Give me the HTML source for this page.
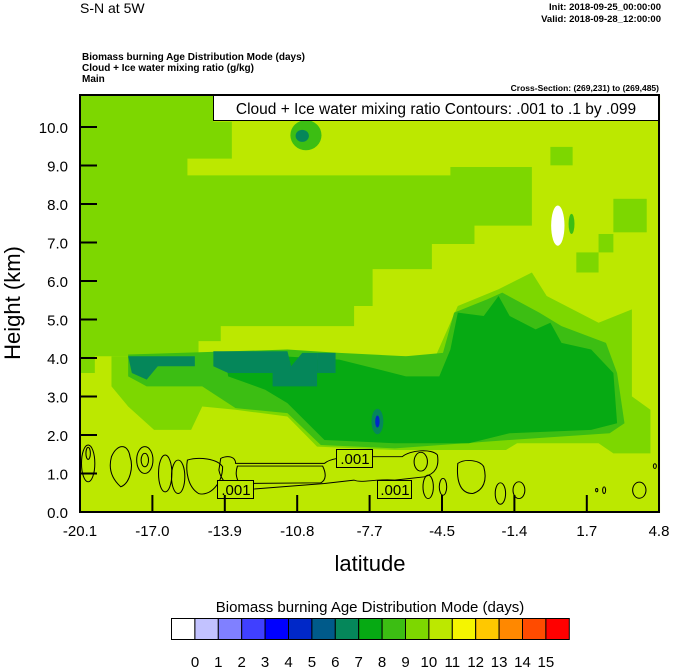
<!DOCTYPE html>
<html><head><meta charset="utf-8"><style>
html,body{margin:0;padding:0;background:#fff;}
svg{display:block;font-family:"Liberation Sans",sans-serif;}
</style></head><body>
<svg width="674" height="668" viewBox="0 0 674 668" xmlns="http://www.w3.org/2000/svg">
<rect width="674" height="668" fill="#fff"/>
<text x="80" y="13" font-size="14">S-N at 5W</text>
<text x="661" y="10" font-size="9.5" font-weight="bold" text-anchor="end">Init: 2018-09-25_00:00:00</text>
<text x="661" y="22" font-size="9.5" font-weight="bold" text-anchor="end">Valid: 2018-09-28_12:00:00</text>
<text x="82" y="60" font-size="10" font-weight="bold">Biomass burning Age Distribution Mode   (days)</text>
<text x="82" y="71" font-size="10" font-weight="bold">Cloud + Ice water mixing ratio   (g/kg)</text>
<text x="82" y="82" font-size="10" font-weight="bold">Main</text>
<text x="659" y="91" font-size="8.5" font-weight="bold" text-anchor="end">Cross-Section: (269,231) to (269,485)</text>

<g transform="translate(80,95) scale(0.3704,0.3349)">
<rect x="0" y="0" width="1566" height="1248" fill="#bce800"/>
<polygon fill="#7dd700" points="0,0 360,0 360,80 410,80 410,190 290,190 290,240 1000,240 1000,215 1220,215 1220,390 1065,390 1065,445 950,445 950,520 790,520 790,630 740,630 740,690 380,690 380,735 320,735 320,780 40,780 40,830 0,830"/>
<rect fill="#7dd700" x="1270" y="155" width="60" height="55"/>
<rect fill="#7dd700" x="1440" y="310" width="90" height="100"/>
<rect fill="#7dd700" x="1400" y="415" width="40" height="55"/>
<rect fill="#7dd700" x="1340" y="470" width="60" height="60"/>
<polygon fill="#7dd700" points="85,780 960,780 1000,680 1020,630 1130,580 1220,530 1260,600 1400,680 1490,640 1490,900 1540,940 1540,1070 1440,1070 1400,1040 1180,1040 1150,1060 850,1060 640,1050 560,960 420,940 330,930 300,1000 200,1000 130,930 85,870"/>
<polygon fill="#3cbe13" points="130,775 560,760 700,770 880,780 980,770 1010,650 1100,610 1140,590 1240,650 1300,690 1420,740 1450,830 1470,980 1430,1010 1160,1030 850,1055 650,1045 560,950 420,935 330,870 180,870 130,840"/>
<polygon fill="#06aa13" points="390,770 700,790 880,840 970,840 1000,760 1020,650 1090,660 1130,600 1160,660 1230,700 1270,680 1300,740 1380,760 1440,830 1450,980 1380,1000 1160,1010 1050,1040 850,1040 660,1030 560,920 500,880 400,840"/>
<polygon fill="#05875a" points="130,780 310,780 310,810 210,810 180,850 140,830"/>
<polygon fill="#05875a" points="360,765 560,765 570,810 600,770 640,770 640,870 520,870 520,830 400,830 360,810"/>
<rect fill="#05875a" x="640" y="770" width="50" height="60"/>
<ellipse cx="803" cy="975" rx="16" ry="38" fill="#05875a"/>
<ellipse cx="803" cy="975" rx="6" ry="18" fill="#0028c8"/>
<ellipse cx="610" cy="120" rx="42" ry="45" fill="#3cbe13"/>
<ellipse cx="600" cy="122" rx="18" ry="18" fill="#05875a"/>
<ellipse cx="1327" cy="385" rx="8" ry="30" fill="#3cbe13"/>
<ellipse cx="1290" cy="390" rx="18" ry="60" fill="#fff"/>
<g fill="none" stroke="#000" stroke-width="2.8">
<path d="M380,1085 C400,1075 420,1080 420,1100 L660,1100 C680,1080 740,1080 760,1080 L870,1080 C890,1060 950,1055 965,1075 C970,1110 960,1130 930,1140 L850,1150 C800,1145 760,1160 740,1150 L660,1160 L430,1180 C400,1170 380,1150 375,1120 Z"/>
<path d="M425,1108 L655,1108 C665,1130 665,1150 650,1158 L430,1160 C420,1140 420,1125 425,1108 Z"/>
<ellipse cx="22" cy="1100" rx="18" ry="55"/>
<ellipse cx="22" cy="1070" rx="6" ry="18"/>
<path d="M85,1080 C100,1040 130,1040 135,1080 C145,1110 135,1160 110,1170 C90,1150 75,1120 85,1080 Z"/>
<ellipse cx="175" cy="1090" rx="22" ry="40"/>
<ellipse cx="175" cy="1090" rx="10" ry="20"/>
<ellipse cx="230" cy="1130" rx="18" ry="55"/>
<ellipse cx="265" cy="1140" rx="18" ry="50"/>
<path d="M290,1090 C320,1080 370,1085 385,1110 C385,1160 350,1200 320,1190 C290,1170 285,1120 290,1090 Z"/>
<ellipse cx="920" cy="1095" rx="18" ry="28"/>
<ellipse cx="940" cy="1170" rx="14" ry="35"/>
<path d="M1020,1100 C1040,1085 1080,1090 1090,1110 C1100,1150 1090,1180 1060,1190 C1030,1190 1015,1160 1020,1100 Z"/>
<ellipse cx="1135" cy="1190" rx="14" ry="32"/>
<ellipse cx="1185" cy="1180" rx="16" ry="25"/>
<ellipse cx="1510" cy="1180" rx="18" ry="24"/>
<ellipse cx="1415" cy="1180" rx="4" ry="10"/>
<ellipse cx="1395" cy="1180" rx="3" ry="5"/>
<ellipse cx="1552" cy="1108" rx="4" ry="7"/>
<ellipse cx="980" cy="1170" rx="10" ry="25"/>
</g>
</g>
<g stroke="#000" stroke-width="1" fill="#bce800">
<rect x="336.5" y="449.5" width="36" height="18"/>
<rect x="217.5" y="480.5" width="36" height="18"/>
<rect x="377.5" y="480.5" width="34" height="18"/>
</g>
<g font-size="15" text-anchor="middle">
<text x="355" y="464">.001</text>
<text x="236" y="495">.001</text>
<text x="395" y="495">.001</text>
</g>
<rect x="213.5" y="95.5" width="445.5" height="25" fill="#fff" stroke="#000" stroke-width="1"/>
<text x="436" y="114" font-size="15.5" text-anchor="middle">Cloud + Ice water mixing ratio Contours: .001 to .1 by .099</text>

<g stroke="#000" stroke-width="2">
<line x1="80" y1="127" x2="97" y2="127"/><line x1="80" y1="165.5" x2="97" y2="165.5"/><line x1="80" y1="204" x2="97" y2="204"/><line x1="80" y1="242.5" x2="97" y2="242.5"/><line x1="80" y1="281" x2="97" y2="281"/><line x1="80" y1="319.5" x2="97" y2="319.5"/><line x1="80" y1="358" x2="97" y2="358"/><line x1="80" y1="396.5" x2="97" y2="396.5"/><line x1="80" y1="435" x2="97" y2="435"/><line x1="80" y1="473.5" x2="97" y2="473.5"/>
<line x1="152.4" y1="512" x2="152.4" y2="495"/><line x1="224.8" y1="512" x2="224.8" y2="495"/><line x1="297.2" y1="512" x2="297.2" y2="495"/><line x1="369.6" y1="512" x2="369.6" y2="495"/><line x1="442" y1="512" x2="442" y2="495"/><line x1="514.4" y1="512" x2="514.4" y2="495"/><line x1="586.8" y1="512" x2="586.8" y2="495"/>
</g>
<rect x="80" y="95" width="579" height="417" fill="none" stroke="#000" stroke-width="2"/>
<g font-size="15" text-anchor="end">
<text x="68" y="133">10.0</text><text x="68" y="171.5">9.0</text><text x="68" y="210">8.0</text><text x="68" y="248.5">7.0</text><text x="68" y="287">6.0</text><text x="68" y="325.5">5.0</text><text x="68" y="364">4.0</text><text x="68" y="402.5">3.0</text><text x="68" y="441">2.0</text><text x="68" y="479.5">1.0</text><text x="68" y="518">0.0</text>
</g>
<g font-size="15" text-anchor="middle">
<text x="80" y="536">-20.1</text><text x="152.4" y="536">-17.0</text><text x="224.8" y="536">-13.9</text><text x="297.2" y="536">-10.8</text><text x="369.6" y="536">-7.7</text><text x="442" y="536">-4.5</text><text x="514.4" y="536">-1.4</text><text x="586.8" y="536">1.7</text><text x="659" y="536">4.8</text>
</g>
<text x="370" y="571" font-size="22" text-anchor="middle">latitude</text>
<text transform="translate(20,303) rotate(-90)" font-size="22" text-anchor="middle">Height (km)</text>

<text x="370" y="612" font-size="15" text-anchor="middle">Biomass burning Age Distribution Mode  (days)</text>
<g stroke="#000" stroke-width="1">
<rect x="171.5" y="618.5" width="23.4" height="21" fill="#ffffff"/>
<rect x="194.9" y="618.5" width="23.4" height="21" fill="#c2c2ff"/>
<rect x="218.3" y="618.5" width="23.4" height="21" fill="#8080ff"/>
<rect x="241.7" y="618.5" width="23.4" height="21" fill="#4040ff"/>
<rect x="265.1" y="618.5" width="23.4" height="21" fill="#0000ff"/>
<rect x="288.5" y="618.5" width="23.4" height="21" fill="#0028c8"/>
<rect x="311.9" y="618.5" width="23.4" height="21" fill="#005a8a"/>
<rect x="335.3" y="618.5" width="23.4" height="21" fill="#05875a"/>
<rect x="358.7" y="618.5" width="23.4" height="21" fill="#06aa13"/>
<rect x="382.1" y="618.5" width="23.4" height="21" fill="#3cbe13"/>
<rect x="405.5" y="618.5" width="23.4" height="21" fill="#7dd700"/>
<rect x="428.9" y="618.5" width="23.4" height="21" fill="#bce800"/>
<rect x="452.3" y="618.5" width="23.4" height="21" fill="#f5f500"/>
<rect x="475.7" y="618.5" width="23.4" height="21" fill="#ffc800"/>
<rect x="499.1" y="618.5" width="23.4" height="21" fill="#ff8800"/>
<rect x="522.5" y="618.5" width="23.4" height="21" fill="#ff4b00"/>
<rect x="545.9" y="618.5" width="23.4" height="21" fill="#ff0000"/>
</g>
<g font-size="15" text-anchor="middle">
<text x="195" y="667">0</text><text x="218.3" y="667">1</text><text x="241.7" y="667">2</text><text x="265.1" y="667">3</text><text x="288.5" y="667">4</text><text x="311.9" y="667">5</text><text x="335.3" y="667">6</text><text x="358.7" y="667">7</text><text x="382.1" y="667">8</text><text x="405.5" y="667">9</text><text x="428.9" y="667">10</text><text x="452.3" y="667">11</text><text x="475.7" y="667">12</text><text x="499.1" y="667">13</text><text x="522.5" y="667">14</text><text x="545.9" y="667">15</text>
</g>
</svg>
</body></html>
